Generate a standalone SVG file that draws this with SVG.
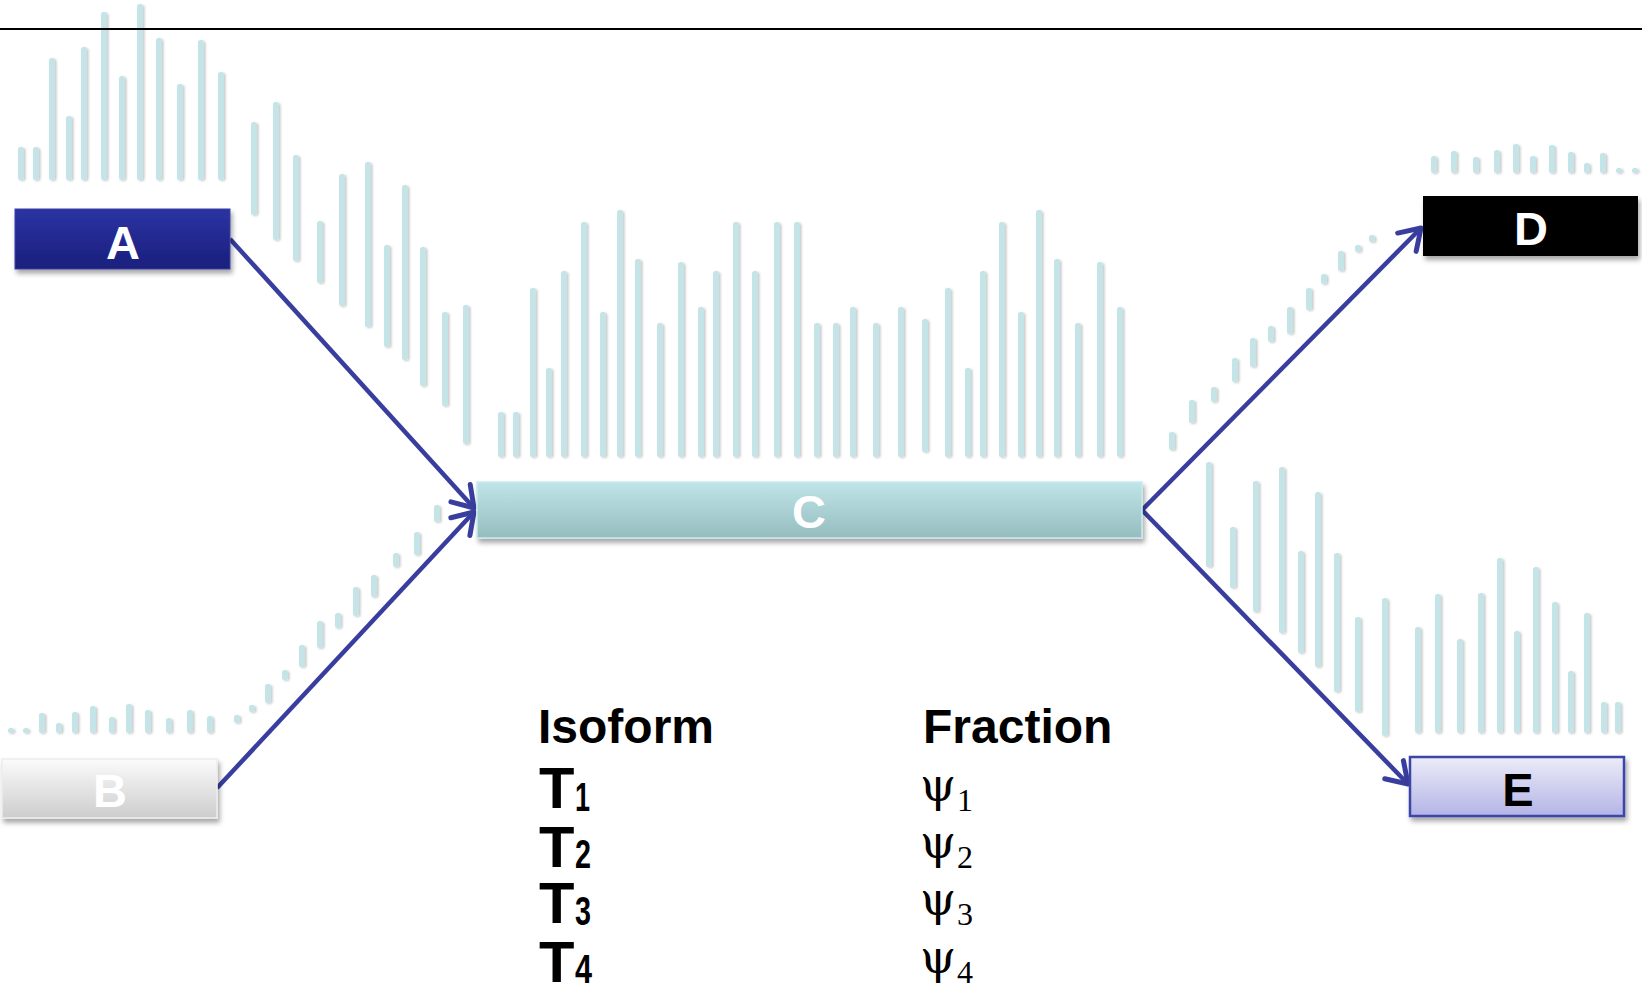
<svg xmlns="http://www.w3.org/2000/svg" width="1642" height="992" viewBox="0 0 1642 992">
<style>
.bars rect{fill:#c4e4e8}
.lbl{font-family:"Liberation Sans",Arial,sans-serif;font-weight:bold;font-size:47px;text-anchor:middle}
.hdr{font-family:"Liberation Sans",Arial,sans-serif;font-weight:bold;font-size:48px}
.t{font-family:"Liberation Sans",Arial,sans-serif;font-weight:bold;font-size:58px}
.ts{font-family:"Liberation Sans",Arial,sans-serif;font-weight:bold;font-size:40px}
.psi{font-family:"DejaVu Serif","Liberation Serif",serif;font-size:46px}
.ps{font-family:"Liberation Serif","DejaVu Serif",serif;font-size:32px}
.conn line{stroke:#383d9e;stroke-width:4.5;marker-end:url(#arr)}
</style>
<defs>
<filter id="bsh" x="-50%" y="-10%" width="200%" height="120%"><feDropShadow dx="1.5" dy="1" stdDeviation="1" flood-color="#000" flood-opacity="0.22"/></filter>
<filter id="sh" x="-10%" y="-20%" width="120%" height="160%"><feDropShadow dx="2" dy="4" stdDeviation="2.5" flood-color="#000" flood-opacity="0.35"/></filter>
<linearGradient id="gA" x1="0" y1="0" x2="0" y2="1"><stop offset="0" stop-color="#2b33a3"/><stop offset="1" stop-color="#1a1f7c"/></linearGradient>
<linearGradient id="gB" x1="0" y1="0" x2="0" y2="1"><stop offset="0" stop-color="#fbfbfb"/><stop offset="1" stop-color="#cdcdcd"/></linearGradient>
<linearGradient id="gC" x1="0" y1="0" x2="0" y2="1"><stop offset="0" stop-color="#bfe5e9"/><stop offset="1" stop-color="#95bcbe"/></linearGradient>
<linearGradient id="gE" x1="0" y1="0" x2="0" y2="1"><stop offset="0" stop-color="#ececf9"/><stop offset="1" stop-color="#b4b4e6"/></linearGradient>
<marker id="arr" markerUnits="userSpaceOnUse" markerWidth="34" markerHeight="34" viewBox="-26 -17 34 34" refX="0" refY="0" orient="auto">
<path d="M-20,-13 L0,0 L-20,13" fill="none" stroke="#383d9e" stroke-width="5" stroke-linecap="round" stroke-linejoin="round"/>
</marker>
</defs>
<rect width="1642" height="992" fill="#fff"/>
<g class="bars" filter="url(#bsh)">
<rect x="18" y="147" width="6" height="33" rx="2.5"/><rect x="33" y="147" width="6" height="33" rx="2.5"/><rect x="49" y="58" width="6" height="122" rx="2.5"/><rect x="66" y="116" width="6" height="64" rx="2.5"/><rect x="81" y="47" width="6" height="133" rx="2.5"/><rect x="101" y="12" width="6" height="168" rx="2.5"/><rect x="119" y="76" width="6" height="104" rx="2.5"/><rect x="137" y="4" width="6" height="176" rx="2.5"/><rect x="156" y="38" width="6" height="142" rx="2.5"/><rect x="177" y="84" width="6" height="96" rx="2.5"/><rect x="198" y="40" width="6" height="140" rx="2.5"/><rect x="218" y="72" width="6" height="108" rx="2.5"/>
<rect x="251" y="122" width="6" height="93" rx="2.5"/><rect x="273" y="102" width="6" height="138" rx="2.5"/><rect x="293" y="155" width="6" height="106" rx="2.5"/><rect x="317" y="221" width="6" height="62" rx="2.5"/><rect x="339" y="174" width="6" height="132" rx="2.5"/><rect x="365" y="162" width="6" height="165" rx="2.5"/><rect x="384" y="245" width="6" height="102" rx="2.5"/><rect x="402" y="185" width="6" height="175" rx="2.5"/><rect x="420" y="247" width="6" height="139" rx="2.5"/><rect x="442" y="312" width="6" height="94" rx="2.5"/><rect x="463" y="305" width="6" height="139" rx="2.5"/>
<rect x="498" y="412" width="6" height="45" rx="2.5"/><rect x="513" y="412" width="6" height="45" rx="2.5"/><rect x="530" y="288" width="6" height="169" rx="2.5"/><rect x="546" y="368" width="6" height="89" rx="2.5"/><rect x="561" y="271" width="6" height="186" rx="2.5"/><rect x="581" y="222" width="6" height="235" rx="2.5"/><rect x="600" y="312" width="6" height="145" rx="2.5"/><rect x="617" y="210" width="6" height="247" rx="2.5"/><rect x="635" y="259" width="6" height="198" rx="2.5"/><rect x="657" y="323" width="6" height="134" rx="2.5"/><rect x="678" y="262" width="6" height="195" rx="2.5"/><rect x="698" y="307" width="6" height="150" rx="2.5"/><rect x="713" y="271" width="6" height="186" rx="2.5"/><rect x="733" y="222" width="6" height="235" rx="2.5"/><rect x="752" y="271" width="6" height="186" rx="2.5"/><rect x="774" y="222" width="6" height="235" rx="2.5"/><rect x="794" y="222" width="6" height="235" rx="2.5"/><rect x="814" y="323" width="6" height="134" rx="2.5"/><rect x="833" y="323" width="6" height="134" rx="2.5"/><rect x="850" y="307" width="6" height="150" rx="2.5"/><rect x="873" y="323" width="6" height="134" rx="2.5"/><rect x="898" y="307" width="6" height="150" rx="2.5"/><rect x="922" y="319" width="6" height="133" rx="2.5"/><rect x="945" y="288" width="6" height="169" rx="2.5"/><rect x="965" y="368" width="6" height="89" rx="2.5"/><rect x="980" y="271" width="6" height="186" rx="2.5"/><rect x="999" y="222" width="6" height="235" rx="2.5"/><rect x="1018" y="312" width="6" height="145" rx="2.5"/><rect x="1036" y="210" width="6" height="247" rx="2.5"/><rect x="1054" y="259" width="6" height="198" rx="2.5"/><rect x="1075" y="323" width="6" height="134" rx="2.5"/><rect x="1097" y="262" width="6" height="195" rx="2.5"/><rect x="1117" y="307" width="6" height="150" rx="2.5"/>
<rect x="1169" y="432" width="6" height="18" rx="2.5"/><rect x="1189" y="400" width="6" height="23" rx="2.5"/><rect x="1211" y="387" width="6" height="15" rx="2.5"/><rect x="1232" y="358" width="6" height="24" rx="2.5"/><rect x="1250" y="338" width="6" height="29" rx="2.5"/><rect x="1268" y="326" width="6" height="16" rx="2.5"/><rect x="1287" y="307" width="6" height="27" rx="2.5"/><rect x="1306" y="288" width="6" height="22" rx="2.5"/><rect x="1321" y="274" width="6" height="10" rx="2.5"/><rect x="1338" y="251" width="6" height="20" rx="2.5"/><rect x="1355" y="245" width="6" height="7" rx="2.5"/><rect x="1369" y="235" width="6" height="7" rx="2.5"/>
<rect x="1431" y="156" width="6" height="17" rx="2.5"/><rect x="1451" y="151" width="6" height="22" rx="2.5"/><rect x="1473" y="157" width="6" height="16" rx="2.5"/><rect x="1494" y="150" width="6" height="23" rx="2.5"/><rect x="1513" y="144" width="6" height="29" rx="2.5"/><rect x="1530" y="156" width="6" height="17" rx="2.5"/><rect x="1549" y="145" width="6" height="28" rx="2.5"/><rect x="1568" y="152" width="6" height="21" rx="2.5"/><rect x="1584" y="163" width="6" height="10" rx="2.5"/><rect x="1600" y="153" width="6" height="20" rx="2.5"/><rect x="1616" y="168" width="6" height="5" rx="2.5"/><rect x="1632" y="168" width="6" height="5" rx="2.5"/>
<rect x="1206" y="462" width="6" height="105" rx="2.5"/><rect x="1230" y="527" width="6" height="61" rx="2.5"/><rect x="1253" y="481" width="6" height="131" rx="2.5"/><rect x="1279" y="467" width="6" height="166" rx="2.5"/><rect x="1298" y="551" width="6" height="102" rx="2.5"/><rect x="1315" y="492" width="6" height="175" rx="2.5"/><rect x="1334" y="553" width="6" height="139" rx="2.5"/><rect x="1355" y="617" width="6" height="95" rx="2.5"/><rect x="1382" y="598" width="6" height="138" rx="2.5"/><rect x="1415" y="627" width="6" height="106" rx="2.5"/><rect x="1435" y="594" width="6" height="139" rx="2.5"/><rect x="1457" y="639" width="6" height="94" rx="2.5"/><rect x="1478" y="593" width="6" height="140" rx="2.5"/><rect x="1497" y="558" width="6" height="175" rx="2.5"/><rect x="1514" y="631" width="6" height="102" rx="2.5"/><rect x="1533" y="567" width="6" height="166" rx="2.5"/><rect x="1552" y="602" width="6" height="131" rx="2.5"/><rect x="1568" y="671" width="6" height="62" rx="2.5"/><rect x="1584" y="613" width="6" height="120" rx="2.5"/><rect x="1601" y="702" width="6" height="31" rx="2.5"/><rect x="1615" y="702" width="6" height="31" rx="2.5"/>
<rect x="8" y="728" width="6" height="5" rx="2.5"/><rect x="23" y="728" width="6" height="5" rx="2.5"/><rect x="39" y="713" width="6" height="20" rx="2.5"/><rect x="56" y="723" width="6" height="10" rx="2.5"/><rect x="72" y="712" width="6" height="21" rx="2.5"/><rect x="90" y="706" width="6" height="27" rx="2.5"/><rect x="109" y="717" width="6" height="16" rx="2.5"/><rect x="126" y="704" width="6" height="29" rx="2.5"/><rect x="145" y="710" width="6" height="23" rx="2.5"/><rect x="166" y="718" width="6" height="15" rx="2.5"/><rect x="187" y="710" width="6" height="23" rx="2.5"/><rect x="207" y="716" width="6" height="17" rx="2.5"/>
<rect x="234" y="715" width="6" height="8" rx="2.5"/><rect x="249" y="705" width="6" height="7" rx="2.5"/><rect x="265" y="684" width="6" height="19" rx="2.5"/><rect x="282" y="670" width="6" height="10" rx="2.5"/><rect x="299" y="645" width="6" height="22" rx="2.5"/><rect x="317" y="621" width="6" height="27" rx="2.5"/><rect x="335" y="613" width="6" height="15" rx="2.5"/><rect x="353" y="587" width="6" height="29" rx="2.5"/><rect x="371" y="575" width="6" height="22" rx="2.5"/><rect x="393" y="553" width="6" height="14" rx="2.5"/><rect x="414" y="532" width="6" height="23" rx="2.5"/><rect x="434" y="505" width="6" height="17" rx="2.5"/>
</g>
<line x1="0" y1="29" x2="1642" y2="29" stroke="#000" stroke-width="2"/>
<g class="conn">
<line x1="230" y1="239" x2="474" y2="508"/>
<line x1="217" y1="788" x2="474" y2="512"/>
<line x1="1142" y1="510" x2="1421" y2="228"/>
<line x1="1142" y1="510" x2="1408" y2="784"/>
</g>
<g id="A"><rect x="15" y="209" width="215" height="60" fill="url(#gA)" stroke="#3a41a6" stroke-width="1" filter="url(#sh)"/><text class="lbl" x="123" y="259" fill="#fff">A</text></g>
<g id="B"><rect x="2" y="759" width="215" height="59" fill="url(#gB)" stroke="#ededed" stroke-width="1.5" filter="url(#sh)"/><text class="lbl" x="110" y="807" fill="#fff">B</text></g>
<g id="C"><rect x="477" y="482" width="665" height="56" fill="url(#gC)" stroke="#c9eaee" stroke-width="1.5" filter="url(#sh)"/><text class="lbl" x="809" y="528" fill="#fff">C</text></g>
<g id="D"><rect x="1423" y="196" width="215" height="60" fill="#000" filter="url(#sh)"/><text class="lbl" x="1531" y="245" fill="#fff">D</text></g>
<g id="E"><rect x="1410" y="757" width="214" height="59" fill="url(#gE)" stroke="#3c44a8" stroke-width="2.5" filter="url(#sh)"/><text class="lbl" x="1518" y="806" fill="#000">E</text></g>
<g id="table">
<text class="hdr" x="538" y="743">Isoform</text>
<text class="hdr" x="923" y="743">Fraction</text>
<text class="t" x="539" y="808">T</text><text class="ts" x="575" y="811" textLength="15" lengthAdjust="spacingAndGlyphs">1</text>
<text class="t" x="539" y="867">T</text><text class="ts" x="575" y="868" textLength="16" lengthAdjust="spacingAndGlyphs">2</text>
<text class="t" x="539" y="923">T</text><text class="ts" x="575" y="925" textLength="16" lengthAdjust="spacingAndGlyphs">3</text>
<text class="t" x="539" y="982">T</text><text class="ts" x="575" y="983" textLength="17" lengthAdjust="spacingAndGlyphs">4</text>
<text class="psi" x="920" y="801">ψ</text><text class="ps" x="957" y="811">1</text>
<text class="psi" x="920" y="858">ψ</text><text class="ps" x="957" y="868">2</text>
<text class="psi" x="920" y="915">ψ</text><text class="ps" x="957" y="925">3</text>
<text class="psi" x="920" y="973">ψ</text><text class="ps" x="957" y="983">4</text>
</g>
</svg>
